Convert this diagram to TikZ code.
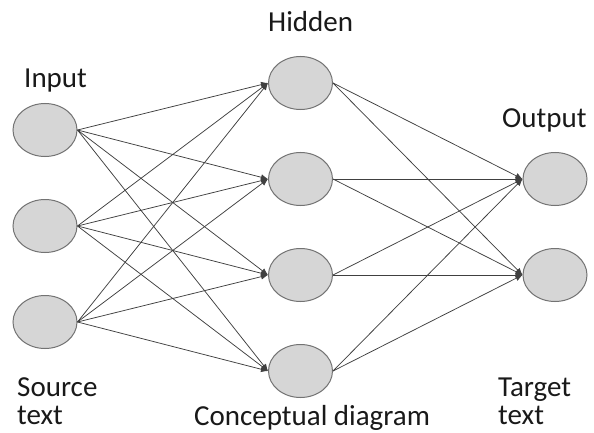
\documentclass[tikz,border=0pt]{standalone}
\usepackage{fontspec}
\setmainfont{Carlito}
\usepackage{tikz}
\usetikzlibrary{shapes.geometric, arrows, arrows.meta, positioning}

\begin{document}
\begin{tikzpicture}[x=1pt, y=1pt,
    neuron/.style={draw=black!55, line width=1pt, ellipse, fill=black!16, minimum width=64pt, minimum height=53pt, inner sep=0pt},
    link/.style={-{Latex[length=7pt, width=6pt]}, draw=black!75, line width=0.75pt},
    lbl/.style={anchor=base west, inner sep=0pt, font=\fontsize{29}{31}\selectfont, text=black!90}]
    \fill[white] (0,0) rectangle (594,-433);
    \useasboundingbox (0,0) rectangle (594,-433);

    % layers
    \node (in1) [neuron] at (45,-130) {};
    \node (in2) [neuron, below of=in1, node distance=96pt] {};
    \node (in3) [neuron, below of=in2, node distance=96pt] {};
    \node (hid1) [neuron] at (300.5,-83) {};
    \node (hid2) [neuron, below of=hid1, node distance=96pt] {};
    \node (hid3) [neuron, below of=hid2, node distance=96pt] {};
    \node (hid4) [neuron, below of=hid3, node distance=96pt] {};
    \node (out1) [neuron] at (555,-179) {};
    \node (out2) [neuron, below of=out1, node distance=96pt] {};

    % labels
    \node (inlbl) [lbl] at (24,-88) {Input};
    \node (hidlbl) [lbl] at (268,-32) {Hidden};
    \node (outlbl) [lbl] at (502,-128) {Output};
    \node (srclbl) [lbl] at (17,-396) {Source};
    \node (srctxt) [lbl] at (17,-424) {text};
    \node (tgtlbl) [lbl] at (498,-396) {Target};
    \node (tgttxt) [lbl] at (498,-424) {text};
    \node (caption) [lbl] at (194,-425) {Conceptual diagram};

    % connections
    \foreach \i in {1,2,3}
        \foreach \h in {1,2,3,4}
            \draw [link] (in\i.east) -- (hid\h.west);
    \foreach \h in {1,2,3,4}
        \foreach \o in {1,2}
            \draw [link] (hid\h.east) -- (out\o.west);
\end{tikzpicture}
\end{document}
